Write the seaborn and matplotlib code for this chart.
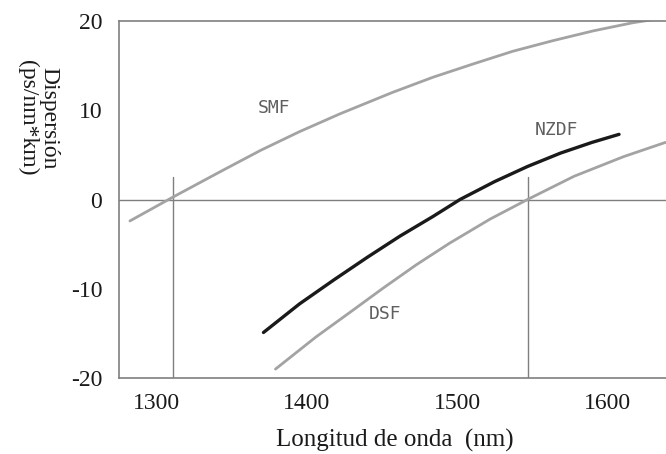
import matplotlib
matplotlib.use("Agg")
import matplotlib.pyplot as plt
import seaborn as sns
import pandas as pd

# -----------------------------
# Datos
# -----------------------------
smf_nm = [1282, 1311, 1342, 1369, 1395, 1422, 1457, 1484, 1511, 1537, 1564, 1591, 1617, 1640]
smf_disp = [-2.4, 0.3, 3.1, 5.5, 7.6, 9.6, 12.0, 13.7, 15.2, 16.6, 17.8, 18.9, 19.8, 20.4]

nzdf_nm = [1371, 1395, 1418, 1440, 1462, 1484, 1502, 1525, 1547, 1569, 1590, 1608]
nzdf_disp = [-14.9, -11.7, -9.0, -6.5, -4.1, -1.9, 0.0, 2.0, 3.7, 5.2, 6.4, 7.3]

dsf_nm = [1379, 1406, 1429, 1451, 1473, 1495, 1522, 1547, 1578, 1611, 1639]
dsf_disp = [-19.0, -15.4, -12.6, -9.9, -7.3, -4.9, -2.2, 0.0, 2.6, 4.8, 6.4]

labels = ["SMF", "NZDF", "DSF"]
label_pos = [(1378, 10.2), (1566, 7.8), (1452, -12.8)]

xticks = [1300, 1400, 1500, 1600]
yticks = [-20, -10, 0, 10, 20]
zero_nm = [1311, 1547]   # longitudes de dispersión nula marcadas

sns.set_style("white")
plt.rcParams["font.family"] = ["Liberation Serif", "DejaVu Serif"]
plt.rcParams["axes.unicode_minus"] = False

fig = plt.figure(figsize=(6.66, 4.54), dpi=100)
ax = fig.add_axes([119 / 666, 1 - 378 / 454, 547 / 666, 357 / 454])

grey = "#a3a3a3"
axis_grey = "#7f7f7f"

df_smf = pd.DataFrame({"nm": smf_nm, "d": smf_disp})
df_nzdf = pd.DataFrame({"nm": nzdf_nm, "d": nzdf_disp})
df_dsf = pd.DataFrame({"nm": dsf_nm, "d": dsf_disp})

sns.lineplot(data=df_smf, x="nm", y="d", ax=ax, color=grey, lw=2.0, sort=False, estimator=None)
sns.lineplot(data=df_dsf, x="nm", y="d", ax=ax, color=grey, lw=2.0, sort=False, estimator=None)
sns.lineplot(data=df_nzdf, x="nm", y="d", ax=ax, color="#1a1a1a", lw=2.4, sort=False, estimator=None)

# líneas de referencia
ax.axhline(0, color=axis_grey, lw=1.0, zorder=1)
for xv in zero_nm:
    ax.plot([xv, xv], [-20, 2.5], color=axis_grey, lw=1.0, zorder=1)

for txt, (xv, yv) in zip(labels, label_pos):
    ax.text(xv, yv, txt, family="DejaVu Sans Mono", fontsize=13, color="#5f5f5f",
            ha="center", va="center")

ax.set_xlim(1274.7, 1639.3)
ax.set_ylim(-20, 20)
ax.set_xticks(xticks)
ax.set_yticks(yticks)
ax.set_xlabel("")
ax.set_ylabel("")

for side in ["left", "bottom", "top"]:
    ax.spines[side].set_color(axis_grey)
    ax.spines[side].set_linewidth(1.2)
ax.spines["right"].set_visible(False)

ax.tick_params(axis="both", direction="out", colors=axis_grey, labelcolor="#1a1a1a",
               labelsize=17, width=1.0)
ax.tick_params(axis="y", length=11, pad=1)
ax.tick_params(axis="x", length=8, pad=3)

fig.text(395 / 666, 1 - 440 / 454, "Longitud de onda  (nm)", fontsize=18,
         ha="center", va="center", color="#1a1a1a")
fig.text(38 / 666, 1 - 118 / 454, "Dispersión\n(ps/nm*km)", fontsize=17,
         rotation=270, ha="center", va="center", color="#1a1a1a",
         linespacing=1.05, multialignment="center")

fig.savefig("out.png", dpi=100)
